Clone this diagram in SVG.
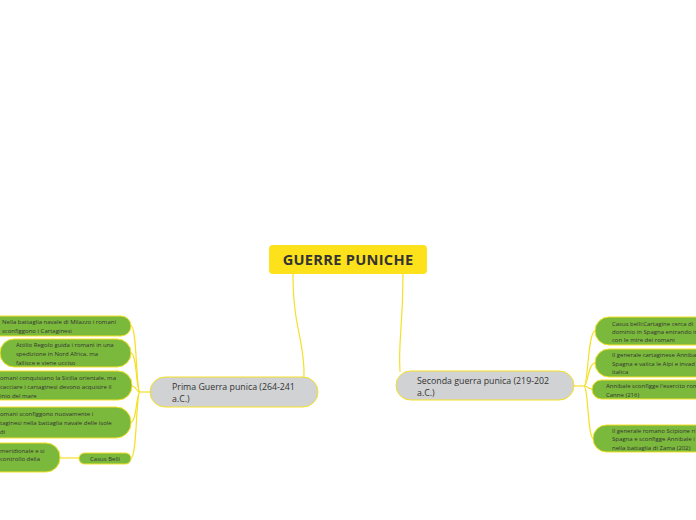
<svg xmlns="http://www.w3.org/2000/svg" width="696" height="520" viewBox="0 0 696 520">
<defs>
<style>
.conn{fill:none;stroke:#f5e026;stroke-width:1.2}
.green{fill:#7bb93c;stroke:#f5e026;stroke-width:1}
.gray{fill:#d1d2d4;stroke:#f5e026;stroke-width:1}
.ct{font-family:"Open Sans","DejaVu Sans",sans-serif;font-size:6px;fill:#333}
.mt{font-family:"Open Sans","DejaVu Sans",sans-serif;font-size:8.8px;fill:#333}
.tt{font-family:"Open Sans","DejaVu Sans",sans-serif;font-size:14.6px;font-weight:bold;letter-spacing:0.3px;fill:#333}
</style>
</defs>
<rect width="696" height="520" fill="#ffffff"/>
<g id="connectors">
<path class="conn" d="M293,274 C293,330 305,340 304,377"/>
<path class="conn" d="M403,274 C403,330 398,340 400,372"/>
<path class="conn" d="M150,392 L140,392"/>
<path class="conn" d="M140,392 C136,392 137,326 131,326"/>
<path class="conn" d="M140,392 C136,392 137,353 131,353"/>
<path class="conn" d="M140,392 C136,392 137,386 131,386"/>
<path class="conn" d="M140,392 C136,392 137,422 131,422"/>
<path class="conn" d="M140,392 C136,392 137,458 131,458"/>
<path class="conn" d="M60,458 L79,458"/>
<path class="conn" d="M574,386 L584,386"/>
<path class="conn" d="M584,386 C588,386 588,331 595,331"/>
<path class="conn" d="M584,386 C588,386 588,363 595,363"/>
<path class="conn" d="M584,386 C588,386 588,389 592,389"/>
<path class="conn" d="M584,386 C588,386 588,438 593,438"/>
</g>
<g id="root">
<rect x="269" y="245" width="158" height="29" rx="4" fill="#fce11b"/>
<text class="tt" x="348" y="265" text-anchor="middle">GUERRE PUNICHE</text>
</g>
<g id="prima">
<rect class="gray" x="150" y="377" width="168" height="30" rx="15"/>
<text class="mt" x="172" y="390">Prima Guerra punica (264-241</text>
<text class="mt" x="172" y="402">a.C.)</text>
</g>
<g id="seconda">
<rect class="gray" x="396" y="371" width="178" height="29" rx="14.5"/>
<text class="mt" x="417" y="384">Seconda guerra punica (219-202</text>
<text class="mt" x="417" y="396">a.C.)</text>
</g>
<g id="milazzo">
<rect class="green" x="-20" y="316" width="151" height="20" rx="10"/>
<text class="ct" x="2" y="324">Nella battaglia navale di Milazzo i romani</text>
<text class="ct" x="2" y="333">sconfiggono i Cartaginesi</text>
</g>
<g id="regolo">
<rect class="green" x="0" y="339" width="131" height="28" rx="14"/>
<text class="ct" x="16" y="347">Attilio Regolo guida i romani in una</text>
<text class="ct" x="16" y="356">spedizione in Nord Africa, ma</text>
<text class="ct" x="16" y="365">fallisce e viene ucciso</text>
</g>
<g id="sicilia">
<rect class="green" x="-20" y="371" width="152" height="29" rx="14"/>
<text class="ct" x="0" y="380">omani conquistano la Sicilia orientale, ma</text>
<text class="ct" x="0" y="389">cacciare i cartaginesi devono acquisire il</text>
<text class="ct" x="0" y="398">inio del mare</text>
</g>
<g id="egadi">
<rect class="green" x="-20" y="407" width="151" height="31" rx="15"/>
<text class="ct" x="0" y="416">omani sconfiggono nuovamente i</text>
<text class="ct" x="0" y="425">taginesi nella battaglia navale delle isole</text>
<text class="ct" x="0" y="434">di</text>
</g>
<g id="meridionale">
<rect class="green" x="-20" y="443" width="80" height="29" rx="14"/>
<text class="ct" x="0" y="453">meridionale e si</text>
<text class="ct" x="0" y="461">controllo della</text>
</g>
<g id="casus-belli-1">
<rect class="green" x="79" y="453" width="52" height="11" rx="5.5"/>
<text class="ct" x="105" y="461" text-anchor="middle">Casus Belli</text>
</g>
<g id="casus-belli-2">
<rect class="green" x="595" y="317" width="121" height="28" rx="14"/>
<text class="ct" x="612" y="326">Casus belli:Cartagine cerca di</text>
<text class="ct" x="612" y="334">dominio in Spagna entrando in</text>
<text class="ct" x="612" y="342">con le mire dei romani</text>
</g>
<g id="annibale">
<rect class="green" x="595" y="349" width="121" height="28" rx="14"/>
<text class="ct" x="612" y="357">Il generale cartaginese Annibal</text>
<text class="ct" x="612" y="366">Spagna e valica le Alpi e invad</text>
<text class="ct" x="612" y="374">italica</text>
</g>
<g id="canne">
<rect class="green" x="592" y="380" width="124" height="19" rx="9.5"/>
<text class="ct" x="606" y="388">Annibale sconfigge l'esercito rom</text>
<text class="ct" x="606" y="397">Canne (216)</text>
</g>
<g id="zama">
<rect class="green" x="593" y="425" width="123" height="27" rx="13.5"/>
<text class="ct" x="612" y="433">Il generale romano Scipione ri</text>
<text class="ct" x="612" y="441">Spagna e sconfigge Annibale i</text>
<text class="ct" x="612" y="450">nella battaglia di Zama (202)</text>
</g>
</svg>
